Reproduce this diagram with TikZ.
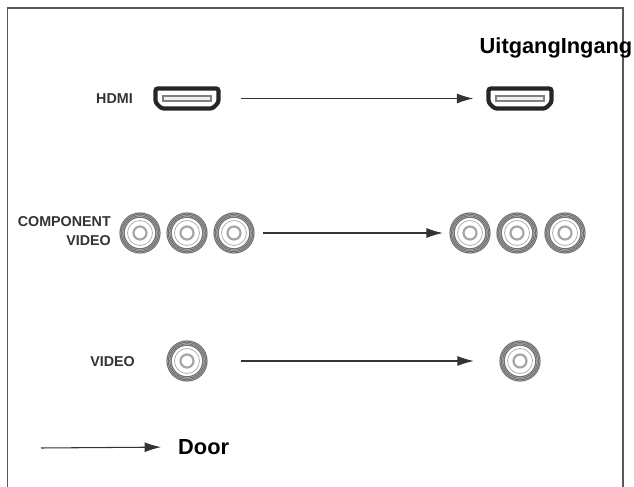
\documentclass[tikz,border=0pt]{standalone}
\usepackage{fontspec}
\setmainfont{Liberation Sans}
\usetikzlibrary{arrows.meta}

\tikzset{
	portlabel/.style={font=\fontsize{12.2}{14}\selectfont\bfseries,text=black!80,inner sep=0pt},
	biglabel/.style={font=\fontsize{18.6}{22}\selectfont\bfseries,inner sep=0pt},
	rcajack/.style={circle,minimum size=35.8pt,inner sep=0pt},
	hdmijack/.style={rectangle,minimum width=58pt,minimum height=21pt,inner sep=0pt},
	link/.style={line width=0.9pt,black!80,-{Latex[length=14pt,width=8.5pt]}},
}

\newcommand{\rcaport}[2]{
	\node[rcajack] (#1) at (#2) {};
	\foreach \rad in {20,18.6,17.2,15.8}
		\draw[black!55,line width=1.05pt] (#1) circle[radius=\rad];
	\draw[black!30,line width=0.7pt] (#1) circle[radius=12.5];
	\draw[black!35,line width=1.9pt] (#1) circle[radius=6.5];
}

\newcommand{\hdmiport}[2]{
	\node[hdmijack] (#1) at (#2) {};
	\begin{scope}[shift={(#1.center)}]
		\draw[black!85,line width=3.6pt,rounded corners=2pt] (-31.5,-10) -- (31.5,-10) -- (31.5,4) -- (25.5,10) -- (-25.5,10) -- (-31.5,4) -- cycle;
		\draw[black!50,line width=1.1pt,fill=black!6] (-24,-2.5) rectangle (24,2.5);
	\end{scope}
}

\begin{document}
\begin{tikzpicture}[x=0.03cm,y=-0.03cm]
	\useasboundingbox (0,0) rectangle (634,487);

	% frame, open at the bottom
	\coordinate (framea) at (7.5,487);
	\coordinate (frameb) at (7.5,8);
	\coordinate (framec) at (623,8);
	\coordinate (framed) at (623,487);
	\draw[black!65,line width=1.5pt] (framea) -- (frameb) -- (framec) -- (framed);

	\node[biglabel,anchor=west] (heads) at (479.5,48) {UitgangIngang};

	% hdmi row
	\node[portlabel] (hdmilabel) at (114.5,99) {HDMI};
	\hdmiport{hdmiout}{187,98.5}
	\hdmiport{hdmiin}{520,98.5}
	\draw[link,shorten <=20pt*0.853,shorten >=12.5pt*0.853] (hdmiout.east) -- (hdmiin.west);

	% component row
	\node[portlabel,anchor=east] (complabel) at (111,222) {COMPONENT};
	\node[portlabel,anchor=east] (vidlabel) at (111,241) {VIDEO};
	\rcaport{compa}{140,233}
	\rcaport{compb}{187,233}
	\rcaport{compc}{234,233}
	\rcaport{compd}{470,233}
	\rcaport{compe}{517,233}
	\rcaport{compf}{565,233}
	\draw[link,shorten <=8pt*0.853,shorten >=6pt*0.853] (compc.east) -- (compd.west);

	% video row
	\node[portlabel] (videolabel) at (112.5,362) {VIDEO};
	\rcaport{videoout}{187,361}
	\rcaport{videoin}{520,361}
	\draw[link,shorten <=33pt*0.853,shorten >=25pt*0.853] (videoout.east) -- (videoin.west);

	% legend
	\coordinate (legend) at (41,448);
	\node[biglabel,anchor=west] (door) at (178,447) {Door};
	\draw[link,shorten >=17pt*0.853] (legend) -- (door.west);
\end{tikzpicture}
\end{document}
